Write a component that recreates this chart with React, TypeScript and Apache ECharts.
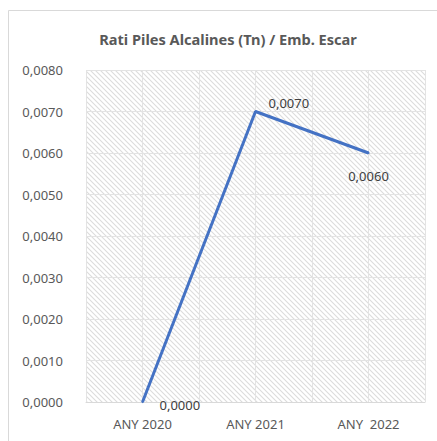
import React, { useEffect, useRef } from "react";
import * as echarts from "echarts";

const categories = ["ANY 2020", "ANY 2021", "ANY  2022"];
const values = [0.0, 0.007, 0.006];
const titleText = "Rati Piles Alcalines (Tn) / Emb. Escar";

const fmt = (v: number) => v.toFixed(4).replace(".", ",");

function makePattern(): HTMLCanvasElement {
  const c = document.createElement("canvas");
  c.width = 5;
  c.height = 5;
  const ctx = c.getContext("2d")!;
  ctx.fillStyle = "#ffffff";
  ctx.fillRect(0, 0, 5, 5);
  ctx.strokeStyle = "#dcdcdc";
  ctx.lineWidth = 1.1;
  ctx.beginPath();
  ctx.moveTo(-1, -1);
  ctx.lineTo(6, 6);
  ctx.moveTo(-1, 4);
  ctx.lineTo(1, 6);
  ctx.moveTo(4, -1);
  ctx.lineTo(6, 1);
  ctx.stroke();
  return c;
}

export default function App() {
  const ref = useRef<HTMLDivElement>(null);
  useEffect(() => {
    if (!ref.current) return;
    const chart = echarts.init(ref.current, undefined, { renderer: "svg" });
    const font = "Noto Sans";
    chart.setOption({
      animation: false,
      title: {
        text: titleText,
        left: 223,
        textAlign: "center",
        top: 26,
        textStyle: { fontFamily: font, fontSize: 14.6, fontWeight: "bold", color: "#595959" },
      },
      graphic: [
        {
          type: "rect",
          shape: { x: 8.5, y: 10.5, width: 440, height: 440 },
          style: { fill: "none", stroke: "#d9d9d9", lineWidth: 1 },
          silent: true,
          z: -1,
        },
      ],
      grid: {
        left: 86,
        right: 12,
        top: 70,
        bottom: 39,
        show: true,
        borderWidth: 0,
        backgroundColor: { image: makePattern(), repeat: "repeat" },
      },
      xAxis: [
        {
          type: "category",
          data: categories,
          boundaryGap: true,
          axisLine: { show: true, lineStyle: { color: "#d9d9d9" } },
          axisTick: { show: false },
          splitLine: { show: false },
          axisLabel: { fontFamily: font, fontSize: 13, color: "#595959", margin: 15 },
        },
        {
          type: "value",
          min: 0,
          max: 6,
          interval: 1,
          show: true,
          position: "bottom",
          axisLine: { show: false },
          axisTick: { show: false },
          axisLabel: { show: false },
          splitLine: { show: true, lineStyle: { color: "#e3e3e3", width: 1 } },
        },
      ],
      yAxis: {
        type: "value",
        min: 0,
        max: 0.008,
        interval: 0.001,
        axisLine: { show: false },
        axisTick: { show: false },
        axisLabel: {
          fontFamily: font,
          fontSize: 13,
          color: "#595959",
          margin: 23,
          formatter: (v: number) => fmt(v),
        },
        splitLine: { show: true, lineStyle: { color: "#e3e3e3" } },
      },
      series: [
        {
          type: "line",
          xAxisIndex: 0,
          data: values.map((v, i) => ({
            value: v,
            label: {
              offset: i === 0 ? [11, 3] : i === 1 ? [7, -9] : [0, 10],
              position: i === 2 ? "bottom" : "right",
            },
          })),
          lineStyle: { color: "#4472C4", width: 3 },
          itemStyle: { color: "#4472C4" },
          symbol: "circle",
          symbolSize: 2,
          showSymbol: true,
          z: 5,
          label: {
            show: true,
            fontFamily: font,
            fontSize: 13,
            color: "#404040",
            formatter: (p: any) => fmt(p.value),
          },
        },
      ],
    });
    return () => chart.dispose();
  }, []);
  return (
    <div style={{ position: "fixed", left: 0, top: 0, width: 437, height: 441, background: "#fff" }}>
      <div ref={ref} style={{ width: 437, height: 441 }} />
    </div>
  );
}
